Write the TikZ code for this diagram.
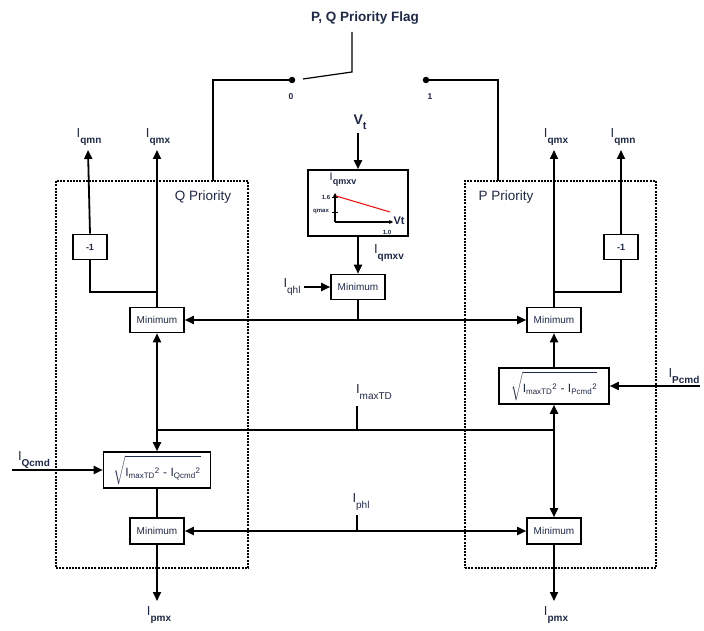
\documentclass[tikz,border=0pt]{standalone}
\usepackage{fontspec}
\setmainfont{Liberation Sans}
\usepackage{amsmath}
\usetikzlibrary{arrows.meta}
\definecolor{txt}{RGB}{30,40,72}
\newcommand\sigb[1]{I\raisebox{-6pt}{\fontsize{10}{10}\selectfont\bfseries #1}}
\newcommand\sigr[1]{I\raisebox{-6pt}{\fontsize{10}{10}\selectfont #1}}
\begin{document}
\begin{tikzpicture}[x=1pt,y=-1pt,
  blk/.style={draw, line width=1.6pt, minimum width=54pt, minimum height=25pt, inner sep=0pt, font=\fontsize{10}{10}\selectfont, text=txt},
  neg/.style={draw, line width=1.6pt, minimum width=34pt, minimum height=25pt, inner sep=0pt, font=\fontsize{9}{9}\selectfont\bfseries, text=txt},
  sq/.style={draw, line width=1.6pt, minimum height=36pt, inner sep=0pt, font=\fontsize{12}{12}\selectfont, text=txt},
  lab/.style={font=\fontsize{13}{13}\selectfont, text=txt, inner sep=0pt},
  tiny/.style={font=\fontsize{6}{6}\selectfont\bfseries, text=txt, inner sep=0pt},
  dot/.style={circle, fill, inner sep=0pt, minimum size=6.5pt},
  arr/.style={line width=1.8pt, -{Triangle[length=9pt,width=8pt]}},
  darr/.style={line width=1.8pt, {Triangle[length=9pt,width=8pt]}-{Triangle[length=9pt,width=8pt]}},
  wire/.style={line width=1.8pt},
  thinw/.style={line width=1.2pt},
  region/.style={draw, line width=1.8pt, dash pattern=on 2pt off 1.2pt, inner sep=0pt}]
\useasboundingbox (0,0) rectangle (704,631);

% switch
\node[lab, font=\fontsize{13.5}{13.5}\selectfont\bfseries] (flag) at (365,18) {P, Q Priority Flag};
\coordinate (swtop) at (352,32);
\coordinate (sw) at (352,72);
\coordinate (blade) at (303,79);
\node[dot] (d0) at (292,80) {};
\node[dot] (d1) at (426,80) {};
\node[lab, font=\fontsize{8.5}{8.5}\selectfont\bfseries] (l0) at (291,97) {0};
\node[lab, font=\fontsize{8.5}{8.5}\selectfont\bfseries] (l1) at (430,97) {1};
\draw[thinw] (swtop) -- (sw) -- (blade);

% priority regions
\node[region, minimum width=192pt, minimum height=387pt] (qreg) at (152,374.5) {};
\node[region, minimum width=191pt, minimum height=387pt] (preg) at (560.5,374.5) {};
\node[lab, font=\fontsize{13.5}{13.5}\selectfont] (qlab) at (203,197) {Q Priority};
\node[lab, font=\fontsize{13.5}{13.5}\selectfont] (plab) at (506,197) {P Priority};
\coordinate (qtap) at (213,181);
\coordinate (ptap) at (498,181);
\draw[thinw] (d0) -| (qtap);
\draw[thinw] (d1) -| (ptap);

% blocks
\node[blk] (minQ) at (157,320) {Minimum};
\node[blk] (minP) at (554,320) {Minimum};
\node[blk] (minC) at (358,287) {Minimum};
\node[blk, minimum height=26pt] (minQb) at (157,531) {Minimum};
\node[blk, minimum height=26pt] (minPb) at (554,531) {Minimum};
\node[neg] (negQ) at (90,247) {-1};
\node[neg] (negP) at (621,247) {-1};
\node[sq, minimum width=107pt] (sqQ) at (157,470) {$\sqrt{\rule[-7pt]{0pt}{26pt}\text{I}_{\text{maxTD}}{}^{\text{2}}\text{ - I}_{\text{Qcmd}}{}^{\text{2}}}$};
\node[sq, minimum width=110pt] (sqP) at (554,386) {$\sqrt{\rule[-7pt]{0pt}{26pt}\text{I}_{\text{maxTD}}{}^{\text{2}}\text{ - I}_{\text{Pcmd}}{}^{\text{2}}}$};
\node[draw, line width=1.6pt, minimum width=100pt, minimum height=66pt] (gbox) at (358,203) {};

% graph inside the box
\draw[line width=1.1pt, -{Stealth[length=4pt,width=4pt]}] (335,222) -- (335,193);
\draw[line width=1.1pt, -{Stealth[length=4pt,width=4pt]}] (335,222) -- (393,222);
\draw[line width=0.8pt] (332,197) -- (338,197);
\draw[line width=0.8pt] (332,212) -- (338,212);
\draw[red, line width=1pt] (336,196) -- (390,212);
\node[tiny] (t16) at (326,197) {1.6};
\node[tiny] (tqm) at (321,212) {qmax};
\node[tiny] (t10) at (387,232) {1.0};
\node[lab, font=\fontsize{11}{11}\selectfont\bfseries] (tvt) at (399,221) {Vt};
\node[lab, font=\fontsize{11}{11}\selectfont] (tiq) at (343,180) {I\raisebox{-4pt}{\fontsize{9}{9}\selectfont\bfseries qmxv}};

% labels
\node[lab] (IqmnQ) at (89,137) {\sigb{qmn}};
\node[lab] (IqmxQ) at (158,137) {\sigb{qmx}};
\node[lab] (IqmxP) at (556,137) {\sigb{qmx}};
\node[lab] (IqmnP) at (623,137) {\sigb{qmn}};
\node[lab, font=\fontsize{14}{14}\selectfont\bfseries] (Vt) at (360,122) {V\raisebox{-5pt}{\fontsize{11}{11}\selectfont\bfseries t}};
\node[lab] (Iqmxv) at (389,253) {\sigb{qmxv}};
\node[lab] (Iqhl) at (292,287) {\sigr{qhl}};
\node[lab] (ImaxTD) at (374,392) {\sigr{maxTD}};
\node[lab] (Iphl) at (361,502) {\sigr{phl}};
\node[lab] (IQcmd) at (34,460) {\sigb{Qcmd}};
\node[lab] (IPcmd) at (684,376) {\sigb{Pcmd}};
\node[lab] (IpmxQ) at (159,615) {\sigb{pmx}};
\node[lab] (IpmxP) at (556,615) {\sigb{pmx}};

\coordinate (jQ) at (157,292);
\coordinate (jP) at (554,292);
\coordinate (tdL) at (157,430);
\coordinate (tdR) at (554,430);
\coordinate (tdT) at (357,406);
\coordinate (tdM) at (357,430);
\coordinate (phT) at (357,515);
\coordinate (phM) at (357,531);
\coordinate (qin) at (12,470);
\coordinate (pin) at (700,386);
\coordinate (qout) at (157,601);
\coordinate (pout) at (554,601);
\coordinate (qmnQt) at (88,150);
\coordinate (qmxQt) at (157,150);
\coordinate (qmxPt) at (554,150);
\coordinate (qmnPt) at (621,150);
\coordinate (vtb) at (358,133);
\coordinate (qhlb) at (304,287);

% connectors
\draw[arr] (negQ.north) -- (qmnQt);
\draw[arr] (minQ.north) -- (qmxQt);
\draw[wire] (negQ.south) |- (jQ);
\draw[arr] (minP.north) -- (qmxPt);
\draw[arr] (negP.north) -- (qmnPt);
\draw[wire] (negP.south) |- (jP);
\draw[darr] (minQ.east) -- (minP.west);
\draw[thinw] (minC.south) -- (minC.south |- minQ.east);
\draw[arr] (vtb) -- (gbox.north);
\draw[arr] (gbox.south) -- (minC.north);
\draw[arr] (qhlb) -- (minC.west);
\draw[darr] (minQ.south) -- (sqQ.north);
\draw[wire] (tdL) -- (tdR);
\draw[wire] (tdT) -- (tdM);
\draw[darr] (sqP.south) -- (minPb.north);
\draw[arr] (sqP.north) -- (minP.south);
\draw[arr] (pin) -- (sqP.east);
\draw[arr] (qin) -- (sqQ.west);
\draw[wire] (sqQ.south) -- (minQb.north);
\draw[darr] (minQb.east) -- (minPb.west);
\draw[wire] (phT) -- (phM);
\draw[arr] (minQb.south) -- (qout);
\draw[arr] (minPb.south) -- (pout);
\end{tikzpicture}
\end{document}
